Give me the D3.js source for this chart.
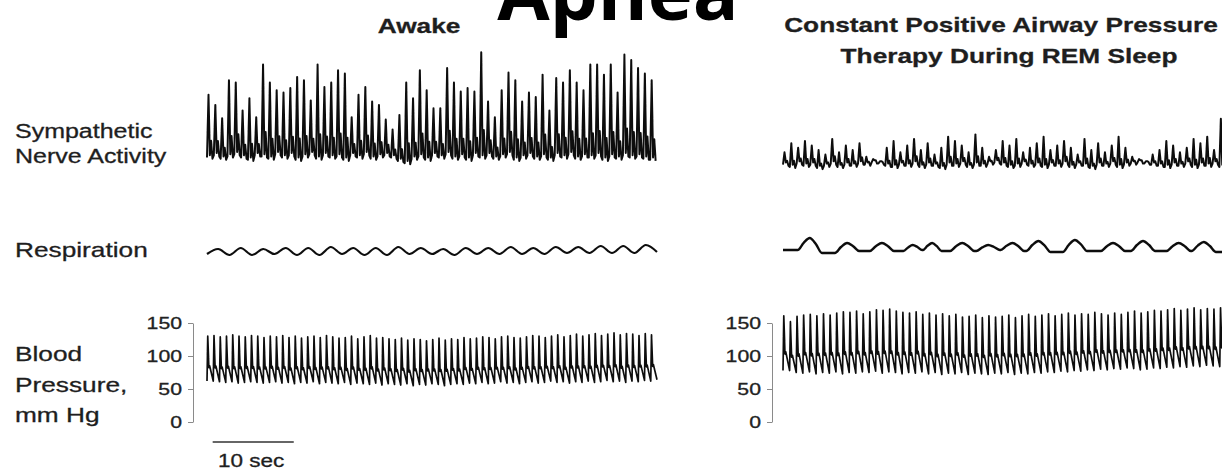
<!DOCTYPE html>
<html>
<head>
<meta charset="utf-8">
<script src="https://cdn.jsdelivr.net/npm/d3@7"></script>
<style>
  html, body { margin: 0; padding: 0; background: #fff; }
  svg { display: block; }
</style>
</head>
<body>
<div id="chart"></div>
<script>
// ---- data ----
const panels = ["Awake", "Constant Positive Airway Pressure", "Therapy During REM Sleep"];
const rowLabels = [["Sympathetic", "Nerve Activity"], ["Respiration"], ["Blood", "Pressure,", "mm Hg"]];
const bpTicks = [0, 50, 100, 150];

// sympathetic nerve bursts, arbitrary units (peak / floor per burst)
const snaAwakePeak = [60,51,39,73,71,46,57,40,87,71, 64,62,66,76,73,55,87,67,71,82,
  79,40,60,67,54,51,38,29,42,71, 57,82,64,48,48,84,71,63,66,63,
  98,54,40,64,80,73,54,62,58,78, 46,75,71,82,71,64,87,87,78,87, 62,96,91,84,79,73];
const snaAwakeFloor = [4,6,3,5,7,4,2,6,5,3, 7,4,6,2,5,7,3,6,4,5, 2,6,4,7,3,5,6,4,1,-1,
  3,5,2,6,4,7,3,5,2,6, 4,6,3,5,7,2,4,6,3,5, 2,6,4,7,3,5,4,6,2,5, 3,6,4,5,3,2];
const snaCpapPeak = [14,22,18,24,20,16,12,26,14,20, 16,22,10,8,6,18,24,14,20,26,
  16,22,12,18,28,24,20,14,30,18, 10,16,24,20,26,14,18,22,28,16,
  20,24,18,12,26,16,22,14,20,28, 18,10,8,6,12,16,24,20,14,18, 26,22,28,16,44,20];
const snaCpapFloor = [3,1,4,2,3,0,2,4,1,3, 2,4,3,5,4,2,1,3,2,4, 1,3,2,0,3,2,4,1,3,2,
  4,5,3,1,2,4,2,3,1,3, 2,4,1,3,2,0,3,2,4,1, 3,4,5,4,3,2,1,3,2,4, 1,3,2,4,1,2];

// respiration, arbitrary units
const respAwakePeak = [3,4,3,4,4,5,4,4,5,4, 3,4,4,5,4,5,5,6,6,7];
const respAwakeTrough = [-2,-3,-3,-2,-3,-3,-2,-3,-3,-2, -2,-3,-2,-2,-2,-2,-1,-1,-1,-1,0];
const respCpapTime = [3.3,7.9,12.2,16.0,18.4,22.1,25.3,28.3,31.5,36.0,40.7,44.4,48.8,51.9]; // sec
const respCpapPeak = [12,7,7,5,7,7,5,7,9,10,7,9,7,8];
const respCpapTrough = [0,-3,-1,-1,0,-1,-1,0,-1,-2,-1,-1,-1,-1,-2];

// blood pressure, mm Hg (systolic / diastolic per beat)
const bpAwakeSys = [130,131,129,130,132,130,129,131,130,128, 130,129,131,128,130,127,129,130,128,131,
  129,127,128,130,126,129,131,127,128,126, 125,127,124,126,125,123,125,127,124,126,
  125,128,126,127,129,128,126,129,130,128, 127,129,131,130,128,130,132,129,131,133,
  130,132,134,131,133,135,132,134,133,131, 134,132];
const bpAwakeDia = [62,61,60,61,59,60,61,60,59,60, 61,59,60,58,60,59,61,58,60,59,
  58,60,57,59,58,57,59,56,58,57, 56,58,55,57,56,58,57,55,57,58,
  57,59,58,60,58,59,61,59,60,58, 60,61,59,60,62,60,61,59,61,60,
  62,60,61,63,61,62,60,62,61,63, 62,64];
const bpCpapSys = [161,152,160,162,163,161,164,162,165,167, 166,168,164,167,170,169,171,168,166,165,
  167,163,165,162,164,161,163,159,160,162, 158,161,159,160,162,158,161,163,160,162,
  164,161,163,165,162,164,163,166,164,162, 165,163,166,168,165,167,169,168,170,172,
  169,171,173,170,172,171,173,170];
const bpCpapDia = [78,75,74,76,73,75,74,76,73,75, 74,76,75,77,74,76,75,73,75,74,
  76,73,75,72,74,73,75,72,74,73, 72,74,73,75,72,74,73,75,74,76,
  75,77,76,78,77,79,78,80,79,81, 80,82,81,79,80,82,81,83,82,84, 83,85,84,86,85,84,86,85];

const traceSec = 55.5;   // length of each recording shown
const scaleBarSec = 10;

// ---- layout ----
const W = 1222, H = 472;
const stretch = 1.25;  // the source figure is stretched sideways
const font = "'Liberation Sans', Arial, Helvetica, sans-serif";

const svg = d3.select("#chart").append("svg")
    .attr("width", W)
    .attr("height", H);

const defs = svg.append("defs");
defs.append("filter").attr("id", "soft")
  .append("feGaussianBlur").attr("stdDeviation", 0.5);

const xAwake = d3.scaleLinear().domain([0, traceSec]).range([207, 657]);
const xCpap = d3.scaleLinear().domain([0, traceSec]).range([783, 1233]);

const ySnaAwake = d3.scaleLinear().domain([0, 100]).range([162, 50]);
const ySnaCpap = d3.scaleLinear().domain([0, 100]).range([168, 56]);
const yRespAwake = d3.scaleLinear().domain([-10, 10]).range([262, 242]);
const yRespCpap = d3.scaleLinear().domain([-10, 10]).range([260, 240]);
const yBp = d3.scaleLinear().domain([0, 150]).range([422, 323]);

// build point lists from the per-beat values
function burstPoints(peaks, floors) {
  const dt = traceSec / peaks.length;
  const pts = [];
  peaks.forEach((p, i) => {
    const t = i * dt, f = floors[i];
    pts.push([t, f], [t + 0.22 * dt, p], [t + 0.42 * dt, f + 2],
             [t + 0.6 * dt, f + p * 0.25], [t + 0.8 * dt, f - 1]);
  });
  return pts;
}

function pulsePoints(sys, dia) {
  const dt = traceSec / sys.length;
  const pts = [[0, dia[0]]];
  sys.forEach((s, i) => {
    const t = i * dt, d = dia[i], pp = s - d;
    pts.push([t + 0.12 * dt, s], [t + 0.3 * dt, d + pp * 0.3],
             [t + 0.42 * dt, d + pp * 0.34], [t + dt, d]);
  });
  return pts;
}

function breathPoints(peaks, troughs) {
  const period = traceSec / peaks.length;
  const pts = [];
  troughs.forEach((tr, i) => {
    pts.push([i * period, tr]);
    if (i < peaks.length) pts.push([(i + 0.5) * period, peaks[i]]);
  });
  return pts;
}

function bumpPoints(times, peaks, troughs, maxHalf) {
  const pts = [[0, troughs[0]]];
  times.forEach((t, i) => {
    const prev = i > 0 ? times[i - 1] : -Infinity;
    const next = i < times.length - 1 ? times[i + 1] : Infinity;
    const half = Math.min(maxHalf, (t - prev) / 2 - 0.05, (next - t) / 2 - 0.05);
    const a = troughs[i], b = troughs[i + 1], p = peaks[i];
    pts.push([t - half, a], [t - half * 0.5, a + (p - a) * 0.6], [t, p],
             [t + half * 0.5, b + (p - b) * 0.6], [t + half, b]);
  });
  pts.push([traceSec, troughs[troughs.length - 1]]);
  return pts;
}

function drawTrace(pts, x, y, width, curve) {
  const line = d3.line()
      .x(d => x(d[0]))
      .y(d => y(d[1]))
      .curve(curve || d3.curveLinear);
  svg.append("path")
      .datum(pts)
      .attr("fill", "none")
      .attr("stroke", "#111")
      .attr("stroke-width", width)
      .attr("stroke-linejoin", "round")
      .attr("filter", "url(#soft)")
      .attr("d", line);
}

drawTrace(burstPoints(snaAwakePeak, snaAwakeFloor), xAwake, ySnaAwake, 2);
drawTrace(burstPoints(snaCpapPeak, snaCpapFloor), xCpap, ySnaCpap, 2);
drawTrace(breathPoints(respAwakePeak, respAwakeTrough), xAwake, yRespAwake, 2.2, d3.curveCardinal);
drawTrace(bumpPoints(respCpapTime, respCpapPeak, respCpapTrough, 1.5), xCpap, yRespCpap, 2.4, d3.curveMonotoneX);
drawTrace(pulsePoints(bpAwakeSys, bpAwakeDia), xAwake, yBp, 1.7);
drawTrace(pulsePoints(bpCpapSys, bpCpapDia), xCpap, yBp, 1.7);

// blood pressure axes
function bpAxis(xPos) {
  const g = svg.append("g")
      .attr("transform", "translate(" + xPos + ",0)")
      .call(d3.axisLeft(yBp).tickValues(bpTicks).tickSize(5).tickSizeOuter(0).tickPadding(6));
  g.select(".domain").attr("stroke", "#8a8a8a");
  g.selectAll(".tick line").attr("stroke", "#8a8a8a");
  g.selectAll(".tick text")
      .attr("fill", "#222")
      .attr("stroke", "#222")
      .attr("stroke-width", 0.3)
      .attr("font-family", font)
      .attr("font-size", 17)
      .attr("transform", "scale(" + stretch + ",1)")
      .attr("x", -11 / stretch);
}
bpAxis(193);
bpAxis(772);

// 10 sec scale bar
svg.append("line")
    .attr("x1", xAwake(0.7)).attr("x2", xAwake(0.7 + scaleBarSec))
    .attr("y1", 442).attr("y2", 442)
    .attr("stroke", "#666").attr("stroke-width", 2);

function text(str, x, y, size, weight, anchor) {
  svg.append("text")
      .attr("transform", "translate(" + x + "," + y + ") scale(" + stretch + ",1)")
      .attr("font-family", font)
      .attr("font-size", size)
      .attr("font-weight", weight || "normal")
      .attr("text-anchor", anchor || "start")
      .attr("fill", "#1e1e1e")
      .attr("stroke", "#1e1e1e")
      .attr("stroke-width", 0.3)
      .text(str);
}

text("10 sec", 218, 467, 18);

// panel headers
text(panels[0], 419, 33, 21, "bold", "middle");
text(panels[1], 1001, 32, 21, "bold", "middle");
text(panels[2], 1009, 63, 21, "bold", "middle");

// row labels
text(rowLabels[0][0], 15, 138, 20);
text(rowLabels[0][1], 15, 163, 20);
text(rowLabels[1][0], 15, 257, 21);
text(rowLabels[2][0], 15, 361, 21);
text(rowLabels[2][1], 15, 392, 21);
text(rowLabels[2][2], 15, 422, 21);

// page title, cut off by the top edge as in the source
svg.append("text")
    .attr("x", 618).attr("y", 20)
    .attr("text-anchor", "middle")
    .attr("font-family", "'Open Sans', 'Noto Sans', sans-serif")
    .attr("font-weight", 700)
    .attr("font-size", 76)
    .attr("fill", "#000")
    .text("Apnea");
</script>
</body>
</html>
